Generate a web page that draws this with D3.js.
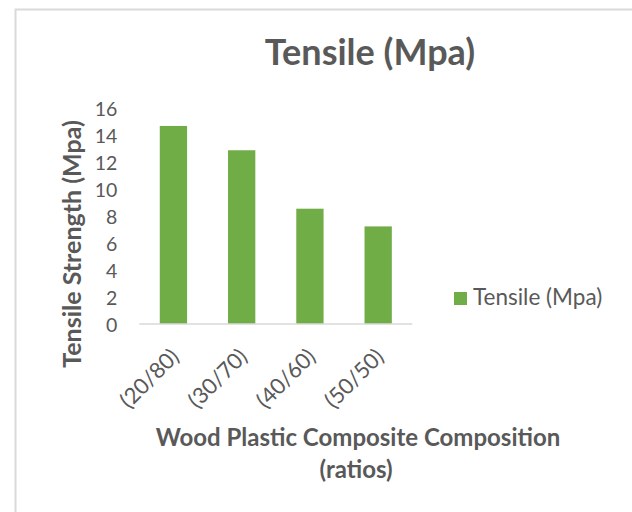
<!DOCTYPE html>
<html>
<head>
<meta charset="utf-8">
<script src="https://cdn.jsdelivr.net/npm/d3@7"></script>
<style>
  html, body { margin: 0; padding: 0; background: #ffffff; }
  svg { display: block; }
  text { font-family: Lato, "Open Sans", sans-serif; fill: #595959; }
</style>
</head>
<body>
<svg id="chart" width="632" height="512"></svg>
<script>
// Tensile strength of wood plastic composites by wood/plastic ratio
const categories = ["(20/80)", "(30/70)", "(40/60)", "(50/50)"];
const tensile = [14.67, 12.87, 8.54, 7.23];
const yTicks = [0, 2, 4, 6, 8, 10, 12, 14, 16];
const seriesName = "Tensile (Mpa)";

const svg = d3.select("#chart");
const W = 632, H = 512;

// chart frame
svg.append("rect")
  .attr("x", 15.5).attr("y", 9.5)
  .attr("width", W).attr("height", H)
  .attr("fill", "#ffffff")
  .attr("stroke", "#d9d9d9")
  .attr("stroke-width", 2);

const plot = { left: 139.3, right: 412.3, top: 108, bottom: 324 };

const x = d3.scaleBand()
  .domain(categories)
  .range([plot.left, plot.right])
  .paddingInner(0.6)
  .paddingOuter(0.3);

const y = d3.scaleLinear()
  .domain([0, 16])
  .range([plot.bottom, plot.top]);

// bars
svg.append("g").selectAll("rect")
  .data(categories.map((c, i) => ({ c, v: tensile[i] })))
  .join("rect")
  .attr("x", d => x(d.c))
  .attr("y", d => y(d.v))
  .attr("width", x.bandwidth())
  .attr("height", d => y(0) - y(d.v))
  .attr("fill", "#70ad47");

// y axis labels (no axis line)
const yAxis = d3.axisLeft(y).tickValues(yTicks).tickSize(0).tickPadding(0);
const gy = svg.append("g")
  .attr("transform", `translate(${plot.left - 22},0)`)
  .call(yAxis);
gy.select(".domain").remove();
gy.selectAll("text")
  .attr("font-size", 19.5)
  .attr("font-family", "Lato, sans-serif")
  .attr("fill", "#595959")
  .attr("dy", "0.36em");

// x axis baseline and rotated category labels
const xAxis = d3.axisBottom(x).tickSize(0).tickPadding(0);
const gx = svg.append("g")
  .attr("transform", `translate(0,${plot.bottom})`)
  .call(xAxis);
gx.select(".domain")
  .attr("stroke", "#d9d9d9")
  .attr("stroke-width", 1.5)
  .attr("d", `M${plot.left},0H${plot.right}`);
gx.selectAll("text")
  .attr("font-size", 22)
  .attr("font-family", "Lato, sans-serif")
  .attr("fill", "#595959")
  .attr("text-anchor", "end")
  .attr("y", 0)
  .attr("dy", 0)
  .attr("transform", "translate(7,34) rotate(-45)");

// title
svg.append("text")
  .attr("x", 370).attr("y", 65)
  .attr("text-anchor", "middle")
  .attr("font-size", 36)
  .attr("font-weight", "bold")
  .text(seriesName);

// y axis title
svg.append("text")
  .attr("transform", "translate(81,244) rotate(-90)")
  .attr("text-anchor", "middle")
  .attr("font-size", 25)
  .attr("font-weight", "bold")
  .text("Tensile Strength (Mpa)");

// x axis title
const xt = svg.append("text")
  .attr("text-anchor", "middle")
  .attr("font-size", 24)
  .attr("font-weight", "bold");
xt.append("tspan").attr("x", 358).attr("y", 446).text("Wood Plastic Composite Composition");
xt.append("tspan").attr("x", 356).attr("y", 478).text("(ratios)");

// legend
const lg = svg.append("g").attr("transform", "translate(454,292)");
lg.append("rect").attr("width", 13).attr("height", 13).attr("fill", "#70ad47");
lg.append("text").attr("x", 19).attr("y", 13)
  .attr("font-size", 22.5)
  .text(seriesName);
</script>
</body>
</html>
